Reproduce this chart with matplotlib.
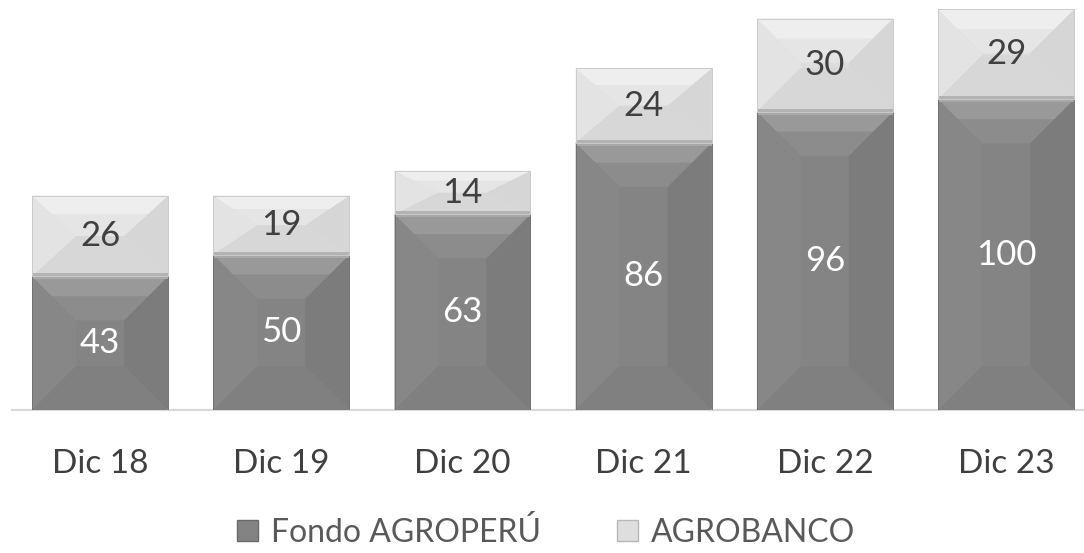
import matplotlib.pyplot as plt
from matplotlib.patches import Polygon, Rectangle

# Data
periods = ['Dic 18', 'Dic 19', 'Dic 20', 'Dic 21', 'Dic 22', 'Dic 23']
fondo_agroperu = [43, 50, 63, 86, 96, 100]
agrobanco = [26, 19, 14, 24, 30, 29]

plt.rcParams['font.family'] = ['Lato', 'DejaVu Sans']

W, H = 1084, 553
fig = plt.figure(figsize=(W / 100, H / 100), dpi=100)
ax = fig.add_axes([12 / W, 143 / H, 1072 / W, 410 / H])

x = list(range(len(periods)))
dark = ax.bar(x, fondo_agroperu, width=0.75, color='#838383', zorder=2)
light = ax.bar(x, agrobanco, bottom=fondo_agroperu, width=0.75, color='#dedede', zorder=2)
ax.set_xlim(-0.486, 5.43)
ax.set_ylim(0, 132)


def bevel(patch, shades, band_top=None, band_bottom=None):
    """Draw Excel-like bevel facets over a bar patch."""
    x0, y0 = patch.get_x(), patch.get_y()
    w, h = patch.get_width(), patch.get_height()
    to_px = ax.transData
    to_data = ax.transData.inverted()
    (px0, py0), (px1, py1) = to_px.transform([(x0, y0), (x0 + w, y0 + h)])
    dy = min(44, (py1 - py0) / 2)
    dx = min(44, 1.6 * dy + 10)
    o = [(px0, py1), (px1, py1), (px1, py0), (px0, py0)]
    i = [(px0 + dx, py1 - dy), (px1 - dx, py1 - dy), (px1 - dx, py0 + dy), (px0 + dx, py0 + dy)]
    facets = {
        'center': i,
        'left': [o[3], o[0], i[0], i[3]],
        'right': [o[1], o[2], i[2], i[1]],
        'bottom': [o[2], o[3], i[3], i[2]],
        'top': [o[0], o[1], i[1], i[0]],
    }
    for name, pts in facets.items():
        ax.add_patch(Polygon(to_data.transform(pts), closed=True, facecolor=shades[name],
                             edgecolor='none', zorder=3))
    # lighter strip near the top edge of the top facet
    k = 0.45
    strip = [(px0, py1), (px1, py1), (px1 - dx * k, py1 - dy * k), (px0 + dx * k, py1 - dy * k)]
    ax.add_patch(Polygon(to_data.transform(strip), facecolor=shades['top2'], edgecolor='none', zorder=3))
    if band_top:
        pts = [(px0, py1), (px1, py1), (px1, py1 - 3), (px0, py1 - 3)]
        ax.add_patch(Polygon(to_data.transform(pts), facecolor=band_top, edgecolor='none', zorder=4))
    if band_bottom:
        pts = [(px0, py0 + 3), (px1, py0 + 3), (px1, py0), (px0, py0)]
        ax.add_patch(Polygon(to_data.transform(pts), facecolor=band_bottom, edgecolor='none', zorder=4))
    ax.add_patch(Rectangle((x0, y0), w, h, facecolor='none', edgecolor=shades['edge'],
                           linewidth=0.7, zorder=5))


dark_shades = {'center': '#848484', 'top': '#8c8c8c', 'top2': '#999999', 'right': '#7c7c7c',
               'bottom': '#808080', 'left': '#878787', 'edge': '#727272'}
light_shades = {'center': '#dddddd', 'top': '#e5e5e5', 'top2': '#eeeeee', 'right': '#d6d6d6',
                'bottom': '#d7d7d7', 'left': '#e3e3e3', 'edge': '#cbcbcb'}

for p in dark.patches:
    bevel(p, dark_shades, band_top='#a8a8a8')
for p in light.patches:
    bevel(p, light_shades, band_bottom='#b3b3b3')

# value labels
for xi, a, b in zip(x, fondo_agroperu, agrobanco):
    ax.text(xi, a / 2, str(a), ha='center', va='center', fontsize=25, color='white', zorder=6)
    ax.text(xi, a + b / 2, str(b), ha='center', va='center', fontsize=25, color='#404040', zorder=6)

for s in ['top', 'left', 'right']:
    ax.spines[s].set_visible(False)
ax.spines['bottom'].set_color('#d9d9d9')
ax.spines['bottom'].set_linewidth(1.5)
ax.set_yticks([])
ax.set_xticks(x)
ax.set_xticklabels(periods, fontsize=24, color='#404040')
ax.tick_params(axis='x', length=0, pad=28)

handles = [Rectangle((0, 0), 1, 1, facecolor='#838383', edgecolor='#6a6a6a', linewidth=1),
           Rectangle((0, 0), 1, 1, facecolor='#dedede', edgecolor='#b8b8b8', linewidth=1)]
fig.legend(handles=handles, labels=['Fondo AGROPERÚ', 'AGROBANCO'], loc='center',
           bbox_to_anchor=(546 / W, 21 / H), ncol=2, frameon=False,
           handlelength=0.65, handleheight=0.65, handletextpad=0.4, columnspacing=2.4,
           labelcolor='#595959', prop={'size': 23})

fig.savefig('out.png', dpi=100)
